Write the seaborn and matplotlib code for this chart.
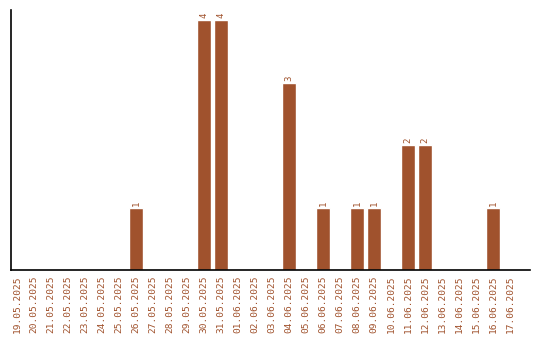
import matplotlib
matplotlib.use("Agg")
import matplotlib.pyplot as plt
import seaborn as sns
import pandas as pd

dates = ["19.05.2025", "20.05.2025", "21.05.2025", "22.05.2025", "23.05.2025",
         "24.05.2025", "25.05.2025", "26.05.2025", "27.05.2025", "28.05.2025",
         "29.05.2025", "30.05.2025", "31.05.2025", "01.06.2025", "02.06.2025",
         "03.06.2025", "04.06.2025", "05.06.2025", "06.06.2025", "07.06.2025",
         "08.06.2025", "09.06.2025", "10.06.2025", "11.06.2025", "12.06.2025",
         "13.06.2025", "14.06.2025", "15.06.2025", "16.06.2025", "17.06.2025"]
counts = [0, 0, 0, 0, 0, 0, 0, 1, 0, 0,
          0, 4, 4, 0, 0, 0, 3, 0, 1, 0,
          1, 1, 0, 2, 2, 0, 0, 0, 1, 0]

color = "#A0522D"
df = pd.DataFrame({"date": dates, "count": counts})

sns.set_style("white")
plt.rcParams['font.family'] = ['DejaVu Sans Mono', 'DejaVu Sans']

fig = plt.figure(figsize=(5.4, 3.4), dpi=100)
ax = fig.add_axes([11/540, 70/340, 519/540, 260/340])
sns.barplot(data=df, x="date", y="count", color=color, saturation=1,
            width=0.82, ax=ax)

for i, v in enumerate(counts):
    if v > 0:
        ax.text(i, v + 0.03, str(v), rotation=90, ha="center", va="bottom",
                color=color, fontsize=6.5)

ax.set_xlim(-0.35, 30.18)
ax.set_ylim(0, 4.16)
ax.set_xlabel("")
ax.set_ylabel("")
ax.set_yticks([])
ax.tick_params(axis="x", length=0, pad=4, labelsize=6.8, labelcolor=color,
               labelrotation=90)
for s in ["top", "right"]:
    ax.spines[s].set_visible(False)
for s in ["left", "bottom"]:
    ax.spines[s].set_color("black")
    ax.spines[s].set_linewidth(1.2)

fig.savefig("out.png", dpi=100)
